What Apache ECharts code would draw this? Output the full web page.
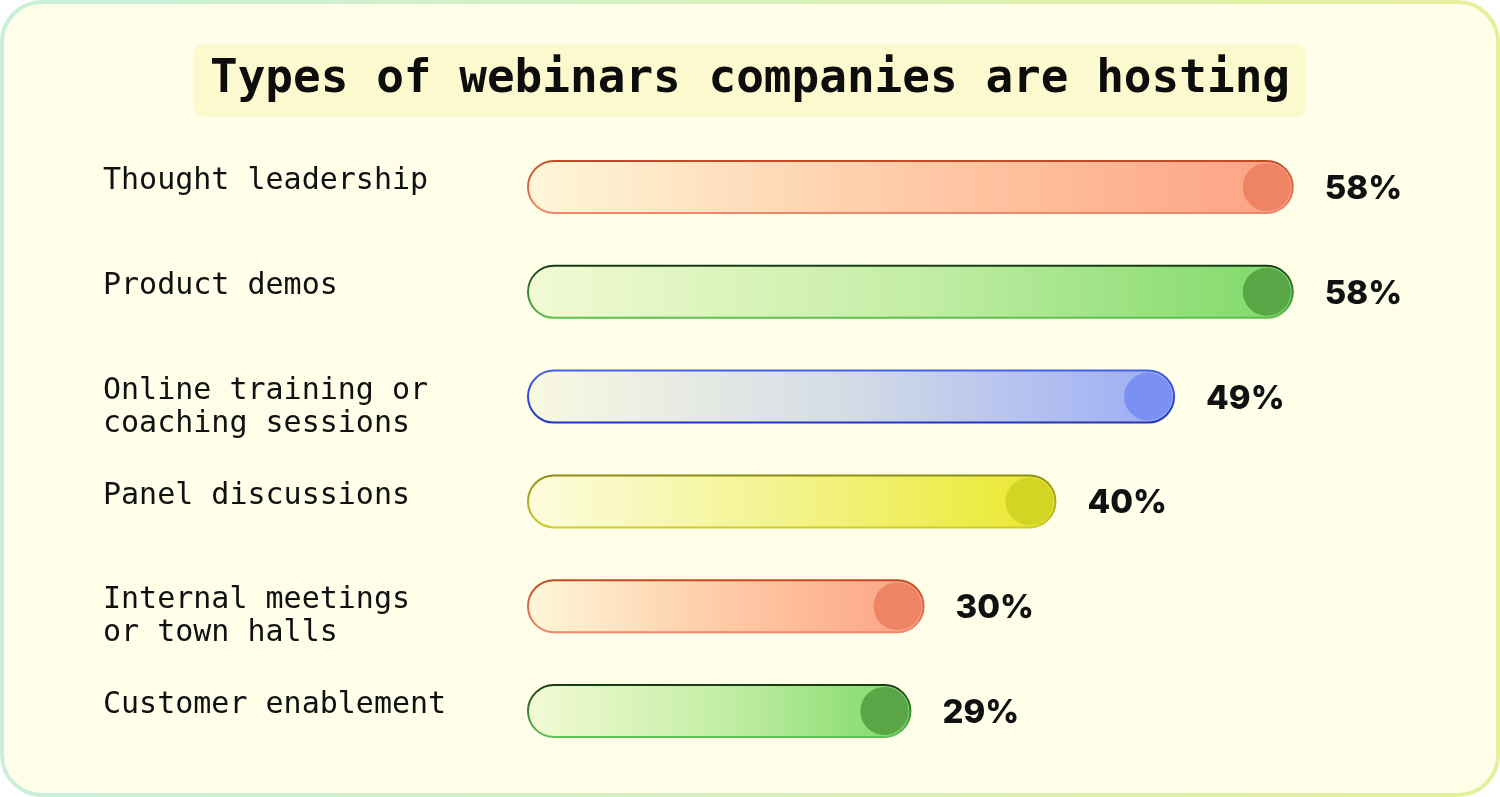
<!DOCTYPE html>
<html lang="en">
<head>
    <meta charset="UTF-8">
    <title>Types of webinars companies are hosting</title>
    <script type="text/javascript" src="https://cdn.jsdelivr.net/npm/echarts@6/dist/echarts.min.js"></script>
    <style>
        html, body { margin: 0; padding: 0; background: #ffffff; }
    </style>
</head>

<body>
<div id="chartmain" style="width:1500px;height:797px"></div>
<script>
    // chart data
    var categories = [
        'Thought leadership',
        'Product demos',
        'Online training or\ncoaching sessions',
        'Panel discussions',
        'Internal meetings\nor town halls',
        'Customer enablement'
    ];
    var values = [58, 58, 49, 40, 30, 29];

    // bar colours: [fill left, fill mid, fill right], stroke top/bottom, knob
    var fills = [
        ['#fef7d9', '#ffcaa6', '#fca184'],
        ['#f3fad4', '#c4eea6', '#7dd968'],
        ['#f9f9e0', '#d3dbe6', '#9aacf8'],
        ['#fcfcdf', '#f3f38a', '#eae82c'],
        ['#fef7d9', '#ffcaa6', '#fca184'],
        ['#f3fad4', '#c4eea6', '#7dd968']
    ];
    var strokes = [
        ['#c24a22', '#f0896a'],
        ['#173a12', '#5ec452'],
        ['#4562e6', '#2236b8'],
        ['#8d8c14', '#cfcd2a'],
        ['#c24a22', '#f0896a'],
        ['#173a12', '#5ec452']
    ];
    var knobs = ['#ee8464', '#58a646', '#7a90f2', '#d3d424', '#ee8464', '#58a646'];

    var barH = 52;

    function renderItem(params, api) {
        var i = api.value(1);
        var v = api.value(0);
        var p0 = api.coord([0, i]);
        var p1 = api.coord([v, i]);
        var f = fills[i], s = strokes[i];
        var top = p0[1] - barH / 2;
        return {
            type: 'group',
            children: [
                {
                    type: 'rect',
                    shape: { x: p0[0], y: top, width: p1[0] - p0[0], height: barH, r: barH / 2 },
                    style: {
                        fill: new echarts.graphic.LinearGradient(0, 0, 1, 0, [
                            { offset: 0, color: f[0] },
                            { offset: 0.5, color: f[1] },
                            { offset: 1, color: f[2] }
                        ]),
                        stroke: new echarts.graphic.LinearGradient(0, 0, 0, 1, [
                            { offset: 0, color: s[0] },
                            { offset: 1, color: s[1] }
                        ]),
                        lineWidth: 2
                    }
                },
                {
                    type: 'circle',
                    shape: { cx: p1[0] - barH / 2, cy: p1[1], r: barH / 2 - 2 },
                    style: { fill: knobs[i] }
                },
                {
                    type: 'text',
                    style: {
                        text: v + '%',
                        x: p1[0] + 32,
                        y: p1[1] + 2,
                        verticalAlign: 'middle',
                        fill: '#111111',
                        fontFamily: 'Inter',
                        fontWeight: 800,
                        fontSize: 33
                    }
                },
                {
                    type: 'text',
                    style: {
                        text: categories[i],
                        x: 103,
                        y: top + 4,
                        verticalAlign: 'top',
                        fill: '#111111',
                        fontFamily: 'DejaVu Sans Mono',
                        fontSize: 30,
                        lineHeight: 33
                    }
                }
            ]
        };
    }

    var option = {
        backgroundColor: '#ffffff',
        animation: false,
        graphic: [
            {
                type: 'rect',
                z: -10,
                shape: { x: 2, y: 2, width: 1496, height: 793, r: 40 },
                style: {
                    fill: '#fefee9',
                    stroke: new echarts.graphic.LinearGradient(0, 0, 1, 0, [
                        { offset: 0, color: '#c9f0dc' },
                        { offset: 1, color: '#e6f09c' }
                    ]),
                    lineWidth: 4
                }
            }
        ],
        title: {
            text: 'Types of webinars companies are hosting',
            left: 'center',
            top: 44,
            padding: [13, 16, 13, 16],
            backgroundColor: '#fbf9cd',
            borderRadius: 10,
            textStyle: {
                fontFamily: 'DejaVu Sans Mono',
                fontWeight: 'bold',
                fontSize: 46,
                lineHeight: 47,
                color: '#0d0d0d'
            }
        },
        grid: {
            left: 528,
            right: 49,
            top: 134.6,
            bottom: 33.6
        },
        xAxis: {
            type: 'value',
            min: 0,
            max: 70,
            show: false
        },
        yAxis: {
            type: 'category',
            data: categories,
            inverse: true,
            show: false
        },
        series: [
            {
                type: 'custom',
                renderItem: renderItem,
                encode: { x: 0, y: 1 },
                data: values.map(function (v, i) { return [v, i]; })
            }
        ]
    };

    var myChart = echarts.init(document.getElementById('chartmain'));
    myChart.setOption(option);
</script>
</body>
</html>
